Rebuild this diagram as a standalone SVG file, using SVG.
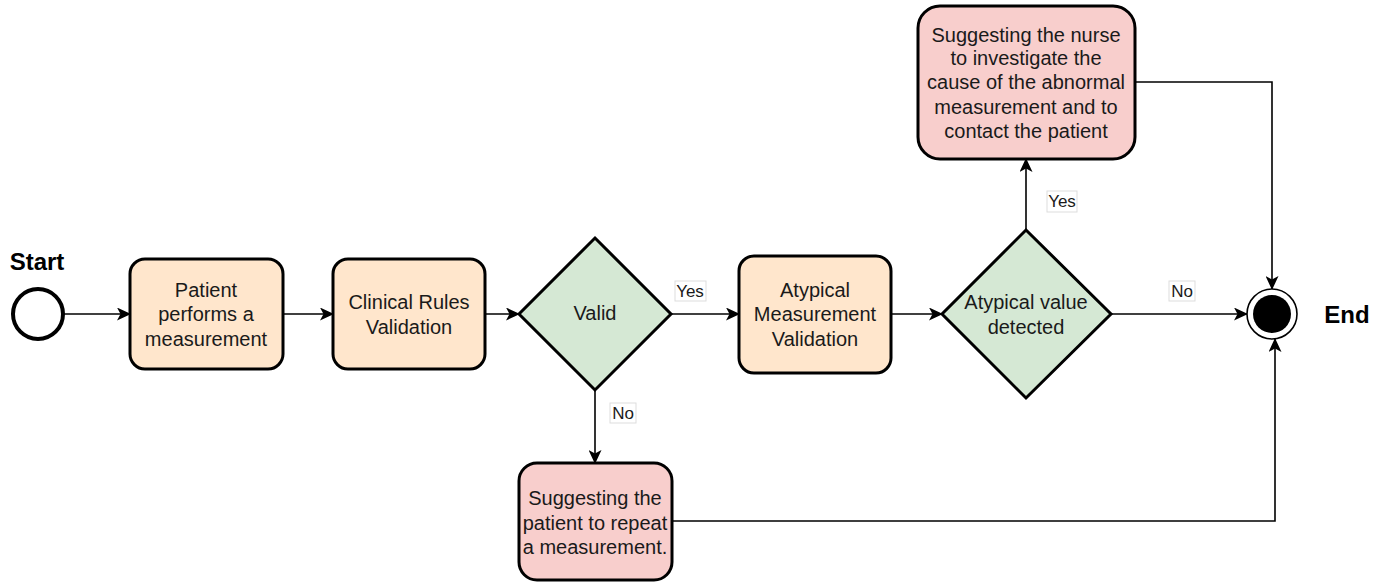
<svg xmlns="http://www.w3.org/2000/svg" width="1389" height="582" viewBox="0 0 1389 582">
  <defs>
    <marker id="arrow" viewBox="0 0 14 13" refX="13" refY="6.5" markerWidth="14" markerHeight="13" markerUnits="userSpaceOnUse" orient="auto">
      <path d="M0,0 L14,6.5 L0,13 L3.5,6.5 Z" fill="#000"/>
    </marker>
  </defs>
  <style>
    text { font-family: "Liberation Sans", Arial, sans-serif; fill: #1a1a1a; }
    .lbl { font-size: 20px; text-anchor: middle; }
    .edge { font-size: 17px; text-anchor: middle; }
    .title { font-size: 24px; font-weight: bold; fill: #000; text-anchor: middle; }
    .task { fill: #ffe6cc; stroke: #000; stroke-width: 3; }
    .alert { fill: #f8cecc; stroke: #000; stroke-width: 3; }
    .gate { fill: #d5e8d4; stroke: #000; stroke-width: 3; }
    .conn { fill: none; stroke: #000; stroke-width: 1.6; marker-end: url(#arrow); }
    .tag { fill: #fff; stroke: #ddd; stroke-width: 1; }
  </style>
  <rect width="1389" height="582" fill="#fff"/>

  <g id="connectors">
    <path class="conn" d="M63,314 H130"/>
    <path class="conn" d="M283,314 H333"/>
    <path class="conn" d="M485,314 H519"/>
    <path class="conn" d="M671,314 H739"/>
    <path class="conn" d="M595,390 V463"/>
    <path class="conn" d="M891,314 H942"/>
    <path class="conn" d="M1111,314 H1247"/>
    <path class="conn" d="M1026,230 V159"/>
    <path class="conn" d="M1135,82 H1272 V289"/>
    <path class="conn" d="M673,521 H1275 V339"/>
    <rect class="tag" x="675" y="281" width="31" height="20"/>
    <text class="edge" x="690" y="297">Yes</text>
    <rect class="tag" x="610" y="403" width="26" height="20"/>
    <text class="edge" x="623" y="419">No</text>
    <rect class="tag" x="1047" y="191" width="30" height="21"/>
    <text class="edge" x="1062" y="207">Yes</text>
    <rect class="tag" x="1169" y="281" width="26" height="20"/>
    <text class="edge" x="1182" y="297">No</text>
  </g>

  <g id="start">
    <circle cx="38" cy="314" r="25" fill="#fff" stroke="#000" stroke-width="4"/>
    <text class="title" x="37" y="270">Start</text>
  </g>

  <g id="measure">
    <rect class="task" x="130" y="259" width="153" height="110" rx="15"/>
    <text class="lbl" x="206" y="297">Patient</text>
    <text class="lbl" x="206" y="321">performs a</text>
    <text class="lbl" x="206" y="346">measurement</text>
  </g>

  <g id="clinical">
    <rect class="task" x="333" y="259" width="152" height="110" rx="15"/>
    <text class="lbl" x="409" y="309">Clinical Rules</text>
    <text class="lbl" x="409" y="334">Validation</text>
  </g>

  <g id="valid">
    <polygon class="gate" points="595,238 671,314 595,390 519,314"/>
    <text class="lbl" x="595" y="320">Valid</text>
  </g>

  <g id="repeat">
    <rect class="alert" x="519" y="463" width="153" height="117" rx="18"/>
    <text class="lbl" x="595" y="505">Suggesting the</text>
    <text class="lbl" x="595" y="530">patient to repeat</text>
    <text class="lbl" x="595" y="554">a measurement.</text>
  </g>

  <g id="atypical">
    <rect class="task" x="739" y="256" width="152" height="117" rx="15"/>
    <text class="lbl" x="815" y="297">Atypical</text>
    <text class="lbl" x="815" y="321">Measurement</text>
    <text class="lbl" x="815" y="346">Validation</text>
  </g>

  <g id="detected">
    <polygon class="gate" points="1026,230 1111,314 1026,398 942,314"/>
    <text class="lbl" x="1026" y="309">Atypical value</text>
    <text class="lbl" x="1026" y="334">detected</text>
  </g>

  <g id="nurse">
    <rect class="alert" x="918" y="6" width="217" height="153" rx="22"/>
    <text class="lbl" x="1026" y="42">Suggesting the nurse</text>
    <text class="lbl" x="1026" y="65">to investigate the</text>
    <text class="lbl" x="1026" y="89">cause of the abnormal</text>
    <text class="lbl" x="1026" y="114">measurement and to</text>
    <text class="lbl" x="1026" y="138">contact the patient</text>
  </g>

  <g id="end">
    <circle cx="1272" cy="314" r="25" fill="#fff" stroke="#000" stroke-width="1.6"/>
    <circle cx="1272" cy="314" r="19" fill="#000"/>
    <text class="title" x="1347" y="323">End</text>
  </g>
</svg>
